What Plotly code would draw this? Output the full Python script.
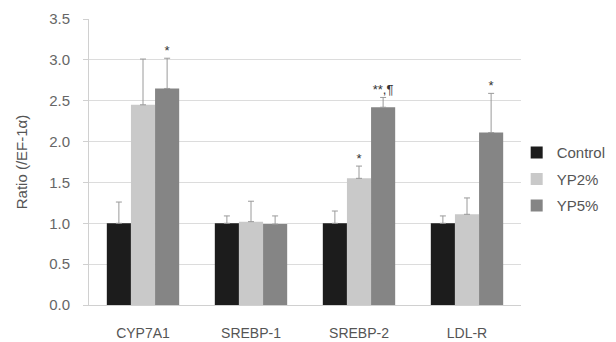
import plotly.graph_objects as go

categories = ["CYP7A1", "SREBP-1", "SREBP-2", "LDL-R"]
series_names = ["Control", "YP2%", "YP5%"]
control = [1.0, 1.0, 1.0, 1.0]
control_err = [0.26, 0.09, 0.15, 0.09]
yp2 = [2.45, 1.02, 1.55, 1.11]
yp2_err = [0.56, 0.25, 0.15, 0.20]
yp5 = [2.65, 0.99, 2.42, 2.11]
yp5_err = [0.37, 0.10, 0.12, 0.48]
yp2_marks = ["", "", "*", ""]
yp5_marks = ["*", "", "**,¶", "*"]
y_ticks = [0.0, 0.5, 1.0, 1.5, 2.0, 2.5, 3.0, 3.5]

colors = ["#1c1c1c", "#c9c9c9", "#858585"]
font = "Liberation Sans, Arial, sans-serif"

fig = go.Figure()
for name, vals, errs, col in zip(series_names, [control, yp2, yp5],
                                 [control_err, yp2_err, yp5_err], colors):
    fig.add_trace(go.Bar(
        x=categories, y=vals, name=name, offsetgroup=name, legendgroup=name,
        marker=dict(color=col, line=dict(width=0)),
        error_y=dict(type="data", array=errs, symmetric=False,
                     arrayminus=[0] * len(errs), color="#9a9a9a",
                     thickness=1, width=3),
    ))

for name, vals, errs, marks in [("YP2%", yp2, yp2_err, yp2_marks),
                                ("YP5%", yp5, yp5_err, yp5_marks)]:
    fig.add_trace(go.Scatter(
        x=categories, y=[v + e for v, e in zip(vals, errs)],
        offsetgroup=name, mode="text", text=marks,
        textposition="top center", showlegend=False, hoverinfo="skip",
        textfont=dict(size=13, color="#333", family=font),
        cliponaxis=False,
    ))

fig.update_layout(
    width=608, height=334,
    margin=dict(l=81, r=95, t=11, b=37, autoexpand=False),
    barmode="group", scattermode="group", bargap=0.33, bargroupgap=0,
    plot_bgcolor="white", paper_bgcolor="white",
    font=dict(family=font, size=13, color="#555"),
    showlegend=True,
    legend=dict(x=0.99, y=0.44, xanchor="left", yanchor="middle",
                font=dict(size=15, color="#555"), tracegroupgap=4,
                itemwidth=30, bgcolor="rgba(0,0,0,0)"),
    xaxis=dict(showline=True, linecolor="#d0d0d0", linewidth=1,
               automargin=False, ticklabelstandoff=15,
               tickfont=dict(size=14, color="#555")),
    yaxis=dict(range=[0, 3.5], tickvals=y_ticks,
               ticktext=[f"{v:.1f}" for v in y_ticks],
               showgrid=True, gridcolor="#dcdcdc", gridwidth=1,
               showline=True, linecolor="#d0d0d0", linewidth=1,
               ticks="outside", ticklen=5, tickcolor="#d0d0d0",
               tickfont=dict(size=15, color="#666"), automargin=False,
               ticklabelstandoff=10, zeroline=False,
               title=dict(text="Ratio (/EF-1α)", standoff=17,
                          font=dict(size=15, color="#555"))),
)

fig.write_html("out.html")
